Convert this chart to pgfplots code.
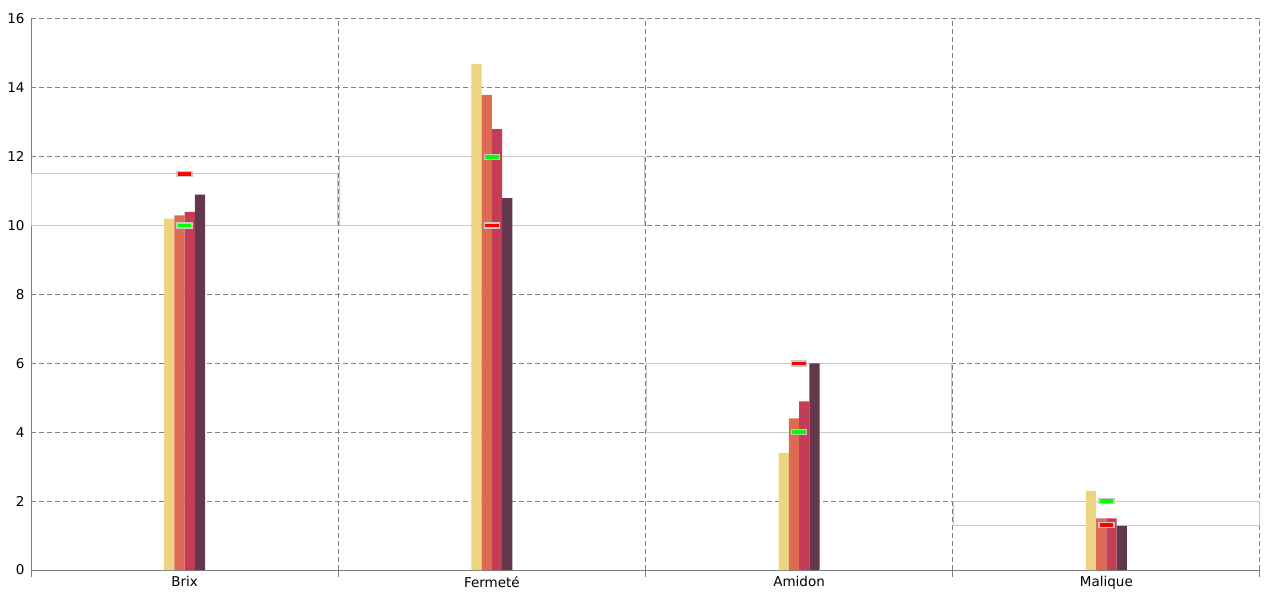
\documentclass[border=0pt]{standalone}
\usepackage{pgfplots}
\pgfplotsset{compat=1.18}
\usepackage{fontspec}
\setmainfont{DejaVu Sans}

\definecolor{cY}{RGB}{237,211,130}
\definecolor{cO}{RGB}{221,107,83}
\definecolor{cR}{RGB}{197,61,84}
\definecolor{cP}{RGB}{100,56,76}
\definecolor{gridc}{RGB}{128,128,128}
\definecolor{boxc}{RGB}{200,200,200}
\definecolor{mkG}{RGB}{0,255,0}
\definecolor{mkR}{RGB}{255,0,0}

\pgfdeclareplotmark{hbar}{\pgfpathrectangle{\pgfpoint{-7.5bp}{-2.5bp}}{\pgfpoint{15bp}{5bp}}\pgfusepathqfillstroke}

\begin{document}
\begin{tikzpicture}
\path[use as bounding box] (0,0) rectangle (1280bp,600bp);
\begin{axis}[
  at={(31bp,30bp)}, anchor=south west,
  scale only axis, width=1229bp, height=551bp,
  xmin=-0.5, xmax=3.5, ymin=0, ymax=16,
  axis lines*=left,
  axis line style={draw=gridc, line width=1bp, -},
  xtick={0,1,2,3}, xticklabels={Brix,Fermeté,Amidon,Malique},
  minor xtick={-0.5,0.5,1.5,2.5,3.5},
  xminorgrids,
  minor x grid style={draw=gridc, line width=1bp, dash pattern=on 5bp off 3bp},
  ytick={0,2,...,16},
  ymajorgrids,
  major y grid style={draw=gridc, line width=1bp, dash pattern=on 5bp off 3bp},
  major tick length=0pt,
  minor tick length=7bp,
  tick align=outside,
  minor tick style={draw=gridc, line width=1bp},
  /pgf/number format/assume math mode=true,
  tick label style={font=\fontsize{13.5bp}{15bp}\selectfont, text=black},
  xticklabel style={yshift=-3bp},
  yticklabel style={xshift=-3bp},
  clip=false,
]
% range boxes
\addplot[draw=boxc, line width=1bp, mark=none] coordinates {(-0.497,10) (0.497,10) (0.497,11.5) (-0.497,11.5) (-0.497,10)};
\addplot[draw=boxc, line width=1bp, mark=none] coordinates {(0.503,10) (1.497,10) (1.497,12) (0.503,12) (0.503,10)};
\addplot[draw=boxc, line width=1bp, mark=none] coordinates {(1.503,4) (2.497,4) (2.497,6) (1.503,6) (1.503,4)};
\addplot[draw=boxc, line width=1bp, mark=none] coordinates {(2.503,1.3) (3.497,1.3) (3.497,2) (2.503,2) (2.503,1.3)};
% bars
\addplot[ybar, bar width=10.25bp, bar shift=-15.4bp, fill=cY, draw=none] coordinates {(0,10.2) (1,14.7) (2,3.4) (3,2.3)};
\addplot[ybar, bar width=10.25bp, bar shift=-5.1bp, fill=cO, draw=none] coordinates {(0,10.3) (1,13.8) (2,4.4) (3,1.5)};
\addplot[ybar, bar width=10.25bp, bar shift=5.1bp, fill=cR, draw=none] coordinates {(0,10.4) (1,12.8) (2,4.9) (3,1.5)};
\addplot[ybar, bar width=10.25bp, bar shift=15.4bp, fill=cP, draw=none] coordinates {(0,10.9) (1,10.8) (2,6.0) (3,1.28)};
% markers
\addplot[only marks, mark=hbar, mark options={fill=mkG, draw=boxc, line width=1.4bp}] coordinates {(0,10) (1,12) (2,4) (3,2)};
\addplot[only marks, mark=hbar, mark options={fill=mkR, draw=boxc, line width=1.4bp}] coordinates {(0,11.5) (1,10) (2,6) (3,1.3)};
\end{axis}
\end{tikzpicture}
\end{document}
